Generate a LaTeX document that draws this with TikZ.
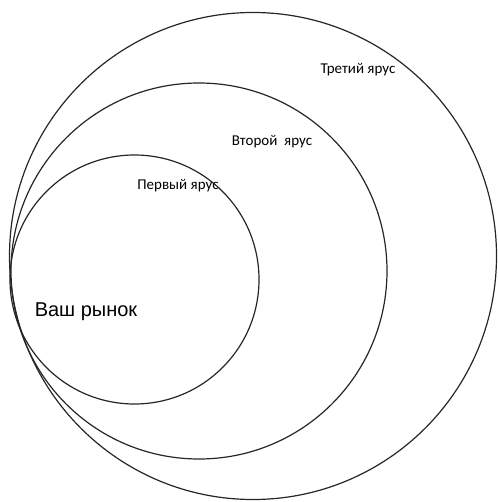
\documentclass[tikz,border=0pt]{standalone}
\usepackage{fontspec}
\setmainfont{Carlito}
\newfontfamily\arialfont{Liberation Sans}
\begin{document}
\begin{tikzpicture}[x=1pt,y=-1pt,
  ring/.style={draw=black!85,line width=1.2pt},
  tier/.style={font=\fontsize{15}{17}\selectfont,inner sep=0pt},
  market/.style={font=\arialfont\fontsize{20}{23}\selectfont,inner sep=0pt}]
\useasboundingbox (0,0) rectangle (497,502);
\draw[ring] (253,256) circle[radius=243.5];
\draw[ring] (199,271) circle[radius=188];
\draw[ring] (134.5,279.5) circle[radius=124.5];
\node[tier] (t3) at (358,70) {Третий ярус};
\node[tier] (t2) at (272,142) {Второй\ \ ярус};
\node[tier] (t1) at (178,186) {Первый ярус};
\node[market] (m) at (86,312) {Ваш рынок};
\end{tikzpicture}
\end{document}
